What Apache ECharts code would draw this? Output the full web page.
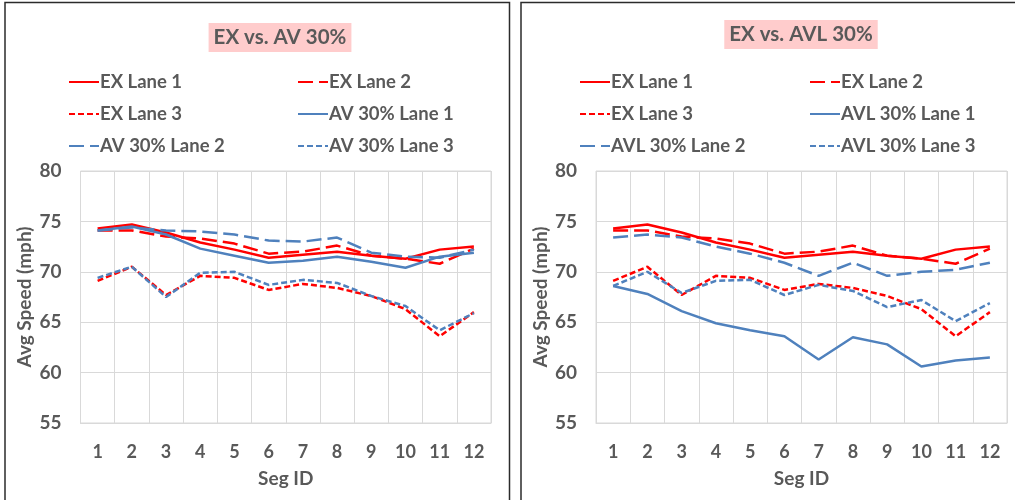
<!DOCTYPE html>
<html>
<head>
<meta charset="utf-8">
<script src="https://cdn.jsdelivr.net/npm/echarts@6/dist/echarts.min.js"></script>
<style>
  html, body { margin: 0; padding: 0; background: #fff; }
  #chart { width: 1015px; height: 500px; }
</style>
</head>
<body>
<div id="chart"></div>
<script>
// Segment IDs along the corridor
const segIds = ['1', '2', '3', '4', '5', '6', '7', '8', '9', '10', '11', '12'];
const yTicks = [55, 60, 65, 70, 75, 80];

// Existing conditions (EX), average speed per lane (mph)
const exLane1 = [74.3, 74.7, 73.9, 72.9, 72.2, 71.4, 71.7, 72.0, 71.6, 71.3, 72.2, 72.5];
const exLane2 = [74.1, 74.1, 73.5, 73.3, 72.8, 71.8, 72.0, 72.6, 71.6, 71.3, 70.8, 72.3];
const exLane3 = [69.1, 70.5, 67.7, 69.6, 69.4, 68.2, 68.8, 68.4, 67.6, 66.3, 63.6, 66.0];

// AV 30% scenario
const av30Lane1 = [74.1, 74.5, 73.7, 72.3, 71.6, 70.9, 71.1, 71.5, 71.0, 70.4, 71.5, 71.9];
const av30Lane2 = [74.1, 74.4, 74.1, 74.0, 73.7, 73.1, 73.0, 73.4, 71.9, 71.5, 71.4, 72.2];
const av30Lane3 = [69.4, 70.5, 67.5, 69.9, 70.0, 68.7, 69.2, 68.9, 67.6, 66.6, 64.2, 65.9];

// AVL 30% scenario
const avl30Lane1 = [68.6, 67.8, 66.1, 64.9, 64.2, 63.6, 61.3, 63.5, 62.8, 60.6, 61.2, 61.5];
const avl30Lane2 = [73.4, 73.7, 73.4, 72.5, 71.8, 70.9, 69.6, 70.9, 69.6, 70.0, 70.2, 70.9];
const avl30Lane3 = [68.6, 70.0, 67.9, 69.1, 69.2, 67.7, 68.7, 68.1, 66.5, 67.2, 65.1, 66.9];

const RED = '#FF0000';
const BLUE = '#4F81BD';
const TEXT = '#595959';
const GRIDC = '#D9D9D9';
const FONT = 'Lato';
const LW = 2.5;
const SOLID = 'solid';
const LONG_DASH = [15, 6];
const SHORT_DASH = [6, 3];

function lineSeries(name, data, color, dash, axisIdx) {
  return {
    name: name,
    type: 'line',
    xAxisIndex: axisIdx,
    yAxisIndex: axisIdx,
    data: data,
    symbol: 'none',
    smooth: false,
    animation: false,
    lineStyle: { color: color, width: LW, type: dash, cap: 'butt' },
    itemStyle: { color: color }
  };
}

function makeXAxis(gridIndex) {
  return {
    type: 'category',
    gridIndex: gridIndex,
    data: segIds,
    boundaryGap: true,
    axisLine: { show: true, lineStyle: { color: GRIDC, width: 1 } },
    axisTick: { show: false },
    splitLine: { show: true, lineStyle: { color: GRIDC, width: 1 } },
    axisLabel: { color: TEXT, fontFamily: FONT, fontWeight: 'bold', fontSize: 18, margin: 20 },
    name: 'Seg ID',
    nameLocation: 'middle',
    nameGap: 46,
    nameTextStyle: { color: TEXT, fontFamily: FONT, fontWeight: 'bold', fontSize: 19 }
  };
}

function makeYAxis(gridIndex) {
  return {
    type: 'value',
    gridIndex: gridIndex,
    min: yTicks[0],
    max: yTicks[yTicks.length - 1],
    interval: 5,
    axisLine: { show: false },
    axisTick: { show: false },
    splitLine: { show: true, lineStyle: { color: GRIDC, width: 1 } },
    axisLabel: { color: TEXT, fontFamily: FONT, fontWeight: 'bold', fontSize: 19, margin: 19 },
    name: 'Avg Speed (mph)',
    nameLocation: 'middle',
    nameRotate: 90,
    nameGap: 46,
    nameTextStyle: { color: TEXT, fontFamily: FONT, fontWeight: 'bold', fontSize: 19 }
  };
}

function makeLegend(left, names) {
  return {
    orient: 'vertical',
    left: left,
    top: 72.5,
    padding: 0,
    itemWidth: 30,
    itemHeight: 14,
    itemGap: 13,
    data: names,
    selectedMode: false,
    itemStyle: { opacity: 0 },
    textStyle: { color: TEXT, fontFamily: FONT, fontWeight: 'bold', fontSize: 18.5, lineHeight: 19, padding: [0, 0, 0, -4] }
  };
}

function makeTitle(text, centerX, top) {
  return {
    text: text,
    left: centerX,
    textAlign: 'center',
    top: top,
    backgroundColor: '#FFCCCC',
    padding: [4, 5, 4, 5],
    textStyle: { color: TEXT, fontFamily: FONT, fontWeight: 'bold', fontSize: 20.5, lineHeight: 21 }
  };
}

// Panel frames drawn around each chart
const frame = { stroke: '#2b2b2b', lineWidth: 1.5 };
const panelFrames = [
  { type: 'polyline', shape: { points: [[5, 500], [5, 2.5], [509.5, 2.5], [509.5, 500]] }, style: Object.assign({ fill: null }, frame), silent: true },
  { type: 'polyline', shape: { points: [[521, 500], [521, 2.5], [1015, 2.5]] }, style: Object.assign({ fill: null }, frame), silent: true }
];

const option = {
  backgroundColor: '#ffffff',
  animation: false,
  graphic: panelFrames,
  title: [
    makeTitle('EX vs. AV 30%', 275, 23),
    makeTitle('EX vs. AVL 30%', 796, 20)
  ],
  legend: [
    makeLegend(68, ['EX Lane 1', 'EX Lane 3', 'AV 30% Lane 2']),
    makeLegend(297, ['EX Lane 2', 'AV 30% Lane 1', 'AV 30% Lane 3']),
    makeLegend(579, ['EX Lane 1', 'EX Lane 3', 'AVL 30% Lane 2']),
    makeLegend(809, ['EX Lane 2', 'AVL 30% Lane 1', 'AVL 30% Lane 3'])
  ],
  grid: [
    { left: 80.5, right: 524, top: 171, bottom: 77, show: true, borderColor: GRIDC, borderWidth: 1 },
    { left: 596, right: 8, top: 171, bottom: 77, show: true, borderColor: GRIDC, borderWidth: 1 }
  ],
  xAxis: [makeXAxis(0), makeXAxis(1)],
  yAxis: [makeYAxis(0), makeYAxis(1)],
  series: [
    lineSeries('EX Lane 1', exLane1, RED, SOLID, 0),
    lineSeries('EX Lane 2', exLane2, RED, LONG_DASH, 0),
    lineSeries('EX Lane 3', exLane3, RED, SHORT_DASH, 0),
    lineSeries('AV 30% Lane 1', av30Lane1, BLUE, SOLID, 0),
    lineSeries('AV 30% Lane 2', av30Lane2, BLUE, LONG_DASH, 0),
    lineSeries('AV 30% Lane 3', av30Lane3, BLUE, SHORT_DASH, 0),
    lineSeries('EX Lane 1', exLane1, RED, SOLID, 1),
    lineSeries('EX Lane 2', exLane2, RED, LONG_DASH, 1),
    lineSeries('EX Lane 3', exLane3, RED, SHORT_DASH, 1),
    lineSeries('AVL 30% Lane 1', avl30Lane1, BLUE, SOLID, 1),
    lineSeries('AVL 30% Lane 2', avl30Lane2, BLUE, LONG_DASH, 1),
    lineSeries('AVL 30% Lane 3', avl30Lane3, BLUE, SHORT_DASH, 1)
  ]
};

const chart = echarts.init(document.getElementById('chart'), null, { renderer: 'canvas' });
chart.setOption(option);
</script>
</body>
</html>
